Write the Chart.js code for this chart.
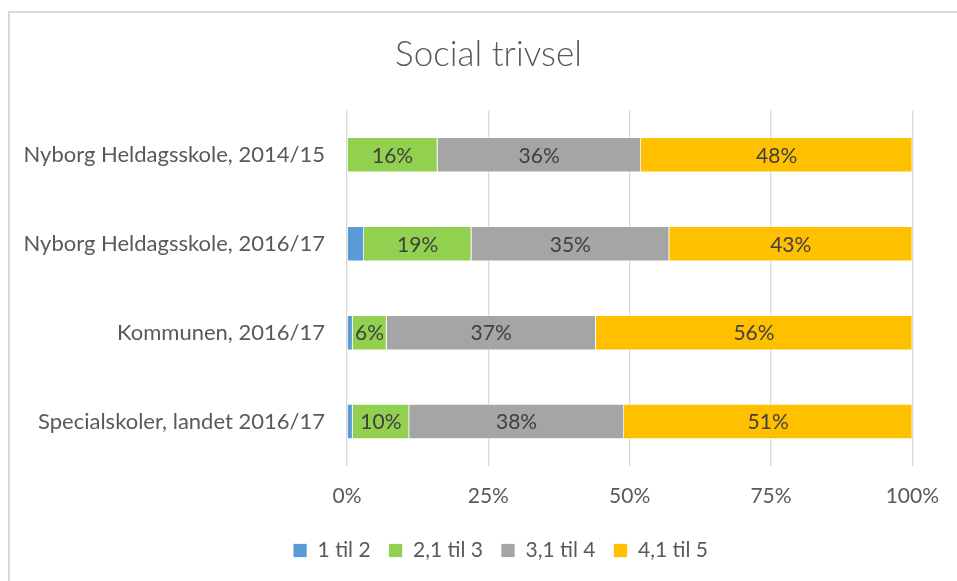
<!DOCTYPE html>
<html>
<head>
<meta charset="utf-8">
<script src="https://cdn.jsdelivr.net/npm/chart.js@4/dist/chart.umd.min.js"></script>
<style>
    html, body { margin: 0; padding: 0; background: #fff; }
    #wrap { position: relative; width: 957px; height: 581px; }
    #frame {
        position: absolute; left: 8px; top: 11px; right: -2px; bottom: -2px;
        border-left: 2px solid #d9d9d9; border-top: 2px solid #d9d9d9;
        pointer-events: none;
    }
</style>
</head>
<body>
<div id="wrap">
    <canvas id="chart" width="957" height="581"></canvas>
    <div id="frame"></div>
</div>
<script>
// Categories (top to bottom)
const categories = [
    'Nyborg Heldagsskole, 2014/15',
    'Nyborg Heldagsskole, 2016/17',
    'Kommunen, 2016/17',
    'Specialskoler, landet 2016/17'
];

// Series values in percent
const seriesNames = ['1 til 2', '2,1 til 3', '3,1 til 4', '4,1 til 5'];
const valuesLow = [0, 3, 1, 1];
const valuesMidLow = [16, 19, 6, 10];
const valuesMidHigh = [36, 35, 37, 38];
const valuesHigh = [48, 43, 56, 51];

const xTicks = [0, 25, 50, 75, 100];
const chartTitle = 'Social trivsel';

const colors = ['#5B9BD5', '#92D050', '#A5A5A5', '#FFC000'];
const fontFamily = 'Lato, "Noto Sans", sans-serif';
const textColor = '#595959';
const fontSize = 21;

// Simple inline data label plugin (no datalabels plugin available)
const segmentLabels = {
    id: 'segmentLabels',
    afterDatasetsDraw(chart) {
        const ctx = chart.ctx;
        ctx.save();
        ctx.font = fontSize + 'px ' + fontFamily;
        ctx.fillStyle = '#404040';
        ctx.textAlign = 'center';
        ctx.textBaseline = 'middle';
        chart.data.datasets.forEach((ds, i) => {
            const meta = chart.getDatasetMeta(i);
            meta.data.forEach((bar, j) => {
                const v = ds.data[j];
                if (v < 5) return; // tiny segments are unlabeled in the original
                const cx = (bar.x + bar.base) / 2;
                ctx.fillText(v + '%', cx, bar.y + 1);
            });
        });
        ctx.restore();
    }
};

// Title drawn by hand so it can sit a bit left of the legend's centre
const titleText = {
    id: 'titleText',
    afterDraw(chart) {
        const box = chart.titleBlock;
        const ctx = chart.ctx;
        ctx.save();
        ctx.font = '300 35px ' + fontFamily;
        ctx.fillStyle = textColor;
        ctx.textAlign = 'center';
        ctx.textBaseline = 'middle';
        ctx.fillText(chartTitle, chart.width / 2 + 10, (box.top + box.bottom) / 2);
        ctx.restore();
    }
};

const allSeries = [valuesLow, valuesMidLow, valuesMidHigh, valuesHigh];

new Chart(document.getElementById('chart'), {
    type: 'bar',
    data: {
        labels: categories,
        datasets: allSeries.map((vals, i) => ({
            label: seriesNames[i],
            data: vals,
            backgroundColor: colors[i],
            borderColor: '#ffffff',
            borderWidth: 0.75,
            categoryPercentage: 1,
            barPercentage: 0.394
        }))
    },
    options: {
        indexAxis: 'y',
        responsive: false,
        animation: false,
        layout: { padding: { left: 44, right: 0, top: 0, bottom: 10 } },
        scales: {
            x: {
                stacked: true,
                min: 0,
                max: 100,
                afterBuildTicks(axis) {
                    axis.ticks = xTicks.map(v => ({ value: v }));
                },
                afterFit(axis) { axis.height = 56; },
                grid: { color: '#d9d9d9', lineWidth: 1.3, drawTicks: false },
                border: { display: false },
                ticks: {
                    padding: 18,
                    color: textColor,
                    font: { family: fontFamily, size: fontSize },
                    callback: v => v + '%'
                }
            },
            y: {
                stacked: true,
                grid: { display: false, drawTicks: false },
                border: { display: false },
                afterFit(axis) { axis.width = 303; },
                // let the long labels run into the left padding instead of being clipped
                afterUpdate(axis) { axis._computeLabelArea = () => undefined; },
                ticks: {
                    padding: 22,
                    color: textColor,
                    font: { family: fontFamily, size: 22 }
                }
            },
            // empty right-hand axis: keeps the plot off the right edge
            yRight: {
                type: 'category',
                labels: categories,
                position: 'right',
                grid: { display: false, drawTicks: false },
                border: { display: false },
                ticks: { display: false },
                afterFit(axis) { axis.width = 44; }
            }
        },
        plugins: {
            title: {
                display: true,
                text: chartTitle,
                color: 'rgba(0,0,0,0)',
                font: { family: fontFamily, size: 32, weight: 'normal' },
                padding: { top: 36, bottom: 36 }
            },
            legend: {
                position: 'bottom',
                labels: {
                    color: textColor,
                    font: { family: fontFamily, size: fontSize },
                    boxWidth: 14,
                    boxHeight: 14,
                    padding: 18
                }
            },
            tooltip: { enabled: false }
        }
    },
    plugins: [segmentLabels, titleText]
});
</script>
</body>
</html>
